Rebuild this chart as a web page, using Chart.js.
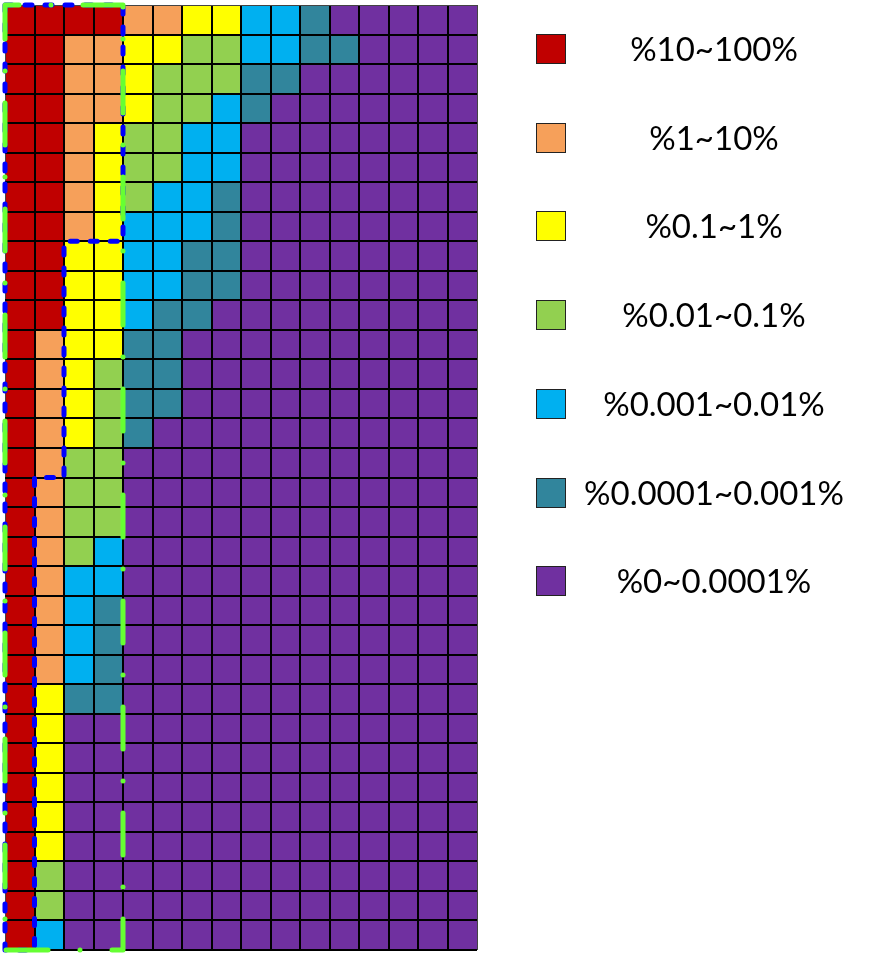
<!DOCTYPE html>
<html>
<head>
<meta charset="utf-8">
<script src="https://cdn.jsdelivr.net/npm/chart.js@4.4.0/dist/chart.umd.min.js"></script>
<style>
    body { margin: 0; background: #fff; }
    #wrap { position: relative; width: 876px; height: 956px; }
    #legend .box { position: absolute; left: 536px; width: 30px; height: 30px; box-sizing: border-box; border: 1px solid #222; }
    #legend .label { position: absolute; left: 564px; width: 300px; text-align: center; font-family: Lato, sans-serif; font-size: 33px; line-height: 40px; color: #000; white-space: nowrap; }
</style>
</head>
<body>
<div id="wrap">
    <canvas id="gridChart" width="876" height="956"></canvas>
    <div id="legend"></div>
</div>
<script>
// Level classes (legend order) and their colours
const levelNames = ['%10~100%', '%1~10%', '%0.1~1%', '%0.01~0.1%', '%0.001~0.01%', '%0.0001~0.001%', '%0~0.0001%'];
const levelColors = ['#C00000', '#F6A05A', '#FFFF00', '#92D050', '#00B0F0', '#31859C', '#7030A0'];

const rowLabels = Array.from({ length: 32 }, (_, i) => String(i + 1));
const colLabels = Array.from({ length: 16 }, (_, i) => String(i + 1));

// level index of every cell, one array per row (top to bottom), 16 columns each
const cellLevels = [
    [0,0,0,0,1,1,2,2,4,4,5,6,6,6,6,6],
    [0,0,1,1,2,2,3,3,4,4,5,5,6,6,6,6],
    [0,0,1,1,2,3,3,3,5,5,6,6,6,6,6,6],
    [0,0,1,1,2,3,3,4,5,6,6,6,6,6,6,6],
    [0,0,1,2,3,3,4,4,6,6,6,6,6,6,6,6],
    [0,0,1,2,3,3,4,4,6,6,6,6,6,6,6,6],
    [0,0,1,2,3,4,4,5,6,6,6,6,6,6,6,6],
    [0,0,1,2,4,4,4,5,6,6,6,6,6,6,6,6],
    [0,0,2,2,4,4,5,5,6,6,6,6,6,6,6,6],
    [0,0,2,2,4,4,5,5,6,6,6,6,6,6,6,6],
    [0,0,2,2,4,5,5,6,6,6,6,6,6,6,6,6],
    [0,1,2,2,5,5,6,6,6,6,6,6,6,6,6,6],
    [0,1,2,3,5,5,6,6,6,6,6,6,6,6,6,6],
    [0,1,2,3,5,5,6,6,6,6,6,6,6,6,6,6],
    [0,1,2,3,5,6,6,6,6,6,6,6,6,6,6,6],
    [0,1,3,3,6,6,6,6,6,6,6,6,6,6,6,6],
    [0,1,3,3,6,6,6,6,6,6,6,6,6,6,6,6],
    [0,1,3,3,6,6,6,6,6,6,6,6,6,6,6,6],
    [0,1,3,4,6,6,6,6,6,6,6,6,6,6,6,6],
    [0,1,4,4,6,6,6,6,6,6,6,6,6,6,6,6],
    [0,1,4,5,6,6,6,6,6,6,6,6,6,6,6,6],
    [0,1,4,5,6,6,6,6,6,6,6,6,6,6,6,6],
    [0,1,4,5,6,6,6,6,6,6,6,6,6,6,6,6],
    [0,2,5,5,6,6,6,6,6,6,6,6,6,6,6,6],
    [0,2,6,6,6,6,6,6,6,6,6,6,6,6,6,6],
    [0,2,6,6,6,6,6,6,6,6,6,6,6,6,6,6],
    [0,2,6,6,6,6,6,6,6,6,6,6,6,6,6,6],
    [0,2,6,6,6,6,6,6,6,6,6,6,6,6,6,6],
    [0,2,6,6,6,6,6,6,6,6,6,6,6,6,6,6],
    [0,3,6,6,6,6,6,6,6,6,6,6,6,6,6,6],
    [0,3,6,6,6,6,6,6,6,6,6,6,6,6,6,6],
    [0,4,6,6,6,6,6,6,6,6,6,6,6,6,6,6]
];

// outlines drawn over the grid, as [column edge, row edge] corners
const greenOutline = [[0, 0], [4, 0], [4, 32], [0, 32]];
const blueOutline = [[0, 0], [4, 0], [4, 8], [2, 8], [2, 16], [1, 16], [1, 32], [0, 32]];

// one stacked dataset per column, every cell one unit wide
const datasets = colLabels.map((col, ci) => ({
    label: col,
    data: rowLabels.map(() => 1),
    backgroundColor: cellLevels.map(row => levelColors[row[ci]]),
    borderWidth: 0,
    inflateAmount: 0.5,
    barPercentage: 1,
    categoryPercentage: 1
}));

// grid lines drawn above the cells; the outer frame is thinner
const gridLine = (count) => ({
    display: true,
    drawTicks: false,
    z: 1,
    color: ctx => (ctx.index === 0 || ctx.index === count) ? '#444' : '#000',
    lineWidth: ctx => (ctx.index === 0 || ctx.index === count) ? 1 : 2
});

const outlinePlugin = {
    id: 'outlines',
    afterDraw(chart) {
        const { ctx, scales: { x, y } } = chart;
        const trace = pts => {
            ctx.beginPath();
            pts.forEach(([c, r], i) => {
                const px = x.getPixelForValue(c);
                const py = y.getPixelForValue(r - 0.5);
                if (i === 0) ctx.moveTo(px, py); else ctx.lineTo(px, py);
            });
            ctx.closePath();
        };
        ctx.save();
        ctx.lineCap = 'round';
        ctx.lineJoin = 'round';
        ctx.lineWidth = 5;

        ctx.strokeStyle = '#0000FF';
        ctx.setLineDash([7, 13]);
        ctx.lineDashOffset = 0;
        trace(blueOutline);
        ctx.stroke();

        ctx.strokeStyle = '#66FF33';
        ctx.setLineDash([42, 32, 0, 32]);
        ctx.lineDashOffset = 28;
        trace(greenOutline);
        ctx.stroke();
        ctx.restore();
    }
};

new Chart(document.getElementById('gridChart'), {
    type: 'bar',
    data: { labels: rowLabels, datasets: datasets },
    options: {
        indexAxis: 'y',
        responsive: false,
        animation: false,
        events: [],
        layout: { padding: { left: 5, top: 5, right: 399, bottom: 6 } },
        scales: {
            x: {
                stacked: true, min: 0, max: colLabels.length,
                ticks: { display: false, stepSize: 1 },
                border: { display: false },
                grid: gridLine(colLabels.length)
            },
            y: {
                stacked: true,
                ticks: { display: false },
                border: { display: false },
                grid: Object.assign(gridLine(rowLabels.length), { offset: true })
            }
        },
        plugins: {
            legend: { display: false },
            tooltip: { enabled: false }
        }
    },
    plugins: [outlinePlugin]
});

// legend at the right
const legend = document.getElementById('legend');
levelNames.forEach((name, i) => {
    const cy = 49 + i * 88.7;
    const box = document.createElement('div');
    box.className = 'box';
    box.style.top = (cy - 15) + 'px';
    box.style.background = levelColors[i];
    legend.appendChild(box);

    const label = document.createElement('div');
    label.className = 'label';
    label.style.top = (cy - 21) + 'px';
    label.textContent = name;
    legend.appendChild(label);
});
</script>
</body>
</html>
